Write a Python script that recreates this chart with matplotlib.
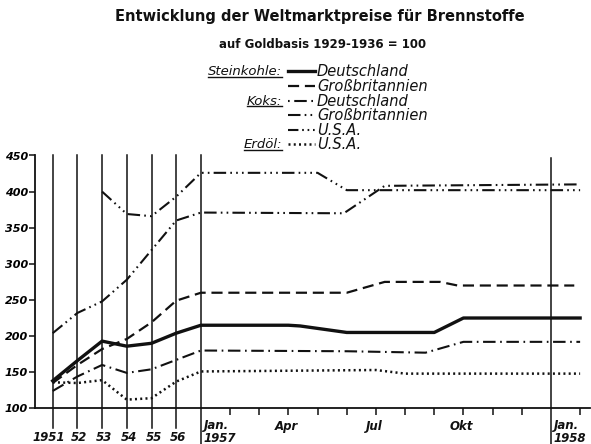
import matplotlib.pyplot as plt
import numpy as np

# time in months relative to Jan 1957 (annual points before that)
# Steinkohle Deutschland
sk_de_t = [-72, -60, -48, -36, -24, -12, 0, 3, 3.4, 5, 8, 9, 13]
sk_de = [138, 166, 193, 186, 190, 204, 215, 215, 214, 205, 205, 225, 225]
# Steinkohle Grossbritannien
sk_gb_t = [-72, -60, -48, -36, -24, -12, 0, 5, 6.3, 8.2, 8.8, 12.8]
sk_gb = [135, 160, 182, 196, 219, 249, 260, 260, 275, 275, 270, 270]
# Koks Deutschland
kk_de_t = [-72, -60, -48, -36, -24, -12, 0, 5, 7.7, 9, 13]
kk_de = [124, 144, 160, 149, 154, 167, 180, 179, 177, 192, 192]
# Koks Grossbritannien
kk_gb_t = [-72, -60, -48, -36, -24, -12, 0, 4.9, 6.3, 13]
kk_gb = [204, 232, 248, 278, 319, 360, 371, 370, 408, 410]
# Koks USA
kk_us_t = [-48, -36, -24, -12, 0, 4, 5, 13]
kk_us = [400, 369, 366, 393, 426, 426, 402, 402]
# Erdoel USA
er_us_t = [-72, -60, -48, -36, -24, -12, 0, 6, 7, 13]
er_us = [136, 135, 139, 112, 114, 137, 151, 153, 148, 148]

year_labels = ['1951', '52', '53', '54', '55', '56']
month_labels = {3: 'Apr', 6: 'Jul', 9: 'Okt'}
yticks = [100, 150, 200, 250, 300, 350, 400, 450]

# horizontal scale: pixels per year before 1957, pixels per month after
YEAR_W = 24.7
MONTH_W = 29.17


def xpos(t):
    t = np.asarray(t, dtype=float)
    return np.where(t < 0, 6 * YEAR_W + t / 12 * YEAR_W, 6 * YEAR_W + t * MONTH_W)


ink = '#111111'
plt.rcParams['font.family'] = 'DejaVu Sans'

fig = plt.figure(figsize=(5.91, 4.44), dpi=100)
ax = fig.add_axes([35 / 591, (444 - 408.3) / 444, 555 / 591, (408.3 - 155.5) / 444])
ax.set_xlim(35 - 52.7, 590 - 52.7)
ax.set_ylim(100, 450)

styles = {
    'sk_de': dict(lw=2.4, ls='-'),
    'sk_gb': dict(lw=1.6, ls=(0, (5, 2.6))),
    'kk_de': dict(lw=1.5, ls=(0, (6, 2.2, 0.8, 2.2))),
    'kk_gb': dict(lw=1.5, ls=(0, (6, 2, 0.8, 2, 0.8, 2))),
    'kk_us': dict(lw=1.5, ls=(0, (6, 2, 0.8, 2, 0.8, 2, 0.8, 2))),
    'er_us': dict(lw=1.8, ls=(0, (0.8, 1.3))),
}

series = [
    ('sk_de', sk_de_t, sk_de),
    ('sk_gb', sk_gb_t, sk_gb),
    ('kk_de', kk_de_t, kk_de),
    ('kk_gb', kk_gb_t, kk_gb),
    ('kk_us', kk_us_t, kk_us),
    ('er_us', er_us_t, er_us),
]
for key, t, v in series:
    ax.plot(xpos(t), v, color=ink, solid_joinstyle='round', **styles[key])

# vertical year lines
for i in range(6):
    x = xpos(-72 + 12 * i)
    ax.plot([x, x], [73, 450], color=ink, lw=1.1, clip_on=False)
for t, top in [(0, 450), (12, 446)]:
    x = xpos(t)
    ax.plot([x, x], [50.5, top], color=ink, lw=1.1, clip_on=False)

for s in ['top', 'right']:
    ax.spines[s].set_visible(False)
for s in ['left', 'bottom']:
    ax.spines[s].set_color(ink)
    ax.spines[s].set_linewidth(1.3)

ax.set_yticks(yticks)
ax.set_yticklabels([str(y) for y in yticks], fontsize=8, fontstyle='italic', fontweight='bold')
ax.tick_params(axis='y', length=4, width=1.1, pad=1, color=ink)

month_ticks = [m for m in range(1, 14) if m != 12]
ax.set_xticks(xpos(month_ticks))
ax.set_xticklabels([])
ax.tick_params(axis='x', length=5, width=1.1, color=ink)

tr = ax.get_xaxis_transform()
lab = dict(fontsize=8.5, fontstyle='italic', fontweight='bold', color=ink, transform=tr)
for i, name in enumerate(year_labels):
    x = float(xpos(-72 + 12 * i))
    if i == 0:
        ax.text(x - 4, -0.116, name, ha='center', va='center', **lab)
    else:
        ax.text(x + 2, -0.116, name, ha='center', va='center', **lab)
for t, yr in [(0, '1957'), (12, '1958')]:
    x = float(xpos(t))
    ax.text(x + 3, -0.069, 'Jan.', ha='left', va='center', **lab)
    ax.text(x + 3, -0.121, yr, ha='left', va='center', **lab)
for m, name in month_labels.items():
    ax.text(float(xpos(m)) - 2, -0.072, name, ha='center', va='center', **lab)

# overlay in pixel coordinates for title and legend
leg = fig.add_axes([0, 0, 1, 1])
leg.set_xlim(0, 591)
leg.set_ylim(444, 0)
leg.axis('off')

leg.text(320, 17, 'Entwicklung der Weltmarktpreise für Brennstoffe',
         ha='center', va='center', fontsize=10.5, fontweight='bold', color=ink)
leg.text(323, 45, 'auf Goldbasis 1929-1936 = 100',
         ha='center', va='center', fontsize=8.5, fontweight='bold', color=ink)

rows = [71.5, 86.5, 101, 115.5, 130, 144.5]
leg_labels = ['Deutschland', 'Großbritannien', 'Deutschland', 'Großbritannien', 'U.S.A.', 'U.S.A.']
leg_keys = ['sk_de', 'sk_gb', 'kk_de', 'kk_gb', 'kk_us', 'er_us']
for y, name, key in zip(rows, leg_labels, leg_keys):
    st = dict(styles[key])
    if key == 'kk_de':
        # sample starts with the dot: . - .
        st['ls'] = (8.2, (6, 2.2, 0.8, 2.2))
    if key == 'kk_us':
        st['ls'] = (0, (5, 1.8, 0.8, 1.8, 0.8, 1.8, 0.8, 1.8))
    leg.plot([288, 315], [y, y], color=ink, **st)
    leg.text(317, y, name, ha='left', va='center', fontsize=10.5, fontstyle='italic', color=ink)

cats = [(0, 'Steinkohle:'), (2, 'Koks:'), (5, 'Erdöl:')]
cat_texts = []
for r, name in cats:
    cat_texts.append((rows[r], leg.text(282, rows[r], name, ha='right', va='center', fontsize=9.5,
                                        fontstyle='italic', color=ink)))

# underline the category labels
fig.canvas.draw()
inv = leg.transData.inverted()
for y, t in cat_texts:
    bb = t.get_window_extent()
    x0 = inv.transform((bb.x0, bb.y0))[0]
    x1 = inv.transform((bb.x1, bb.y0))[0]
    leg.plot([x0, x1], [y + 5.5, y + 5.5], color=ink, lw=1.0)

fig.savefig('out.png', dpi=100)
